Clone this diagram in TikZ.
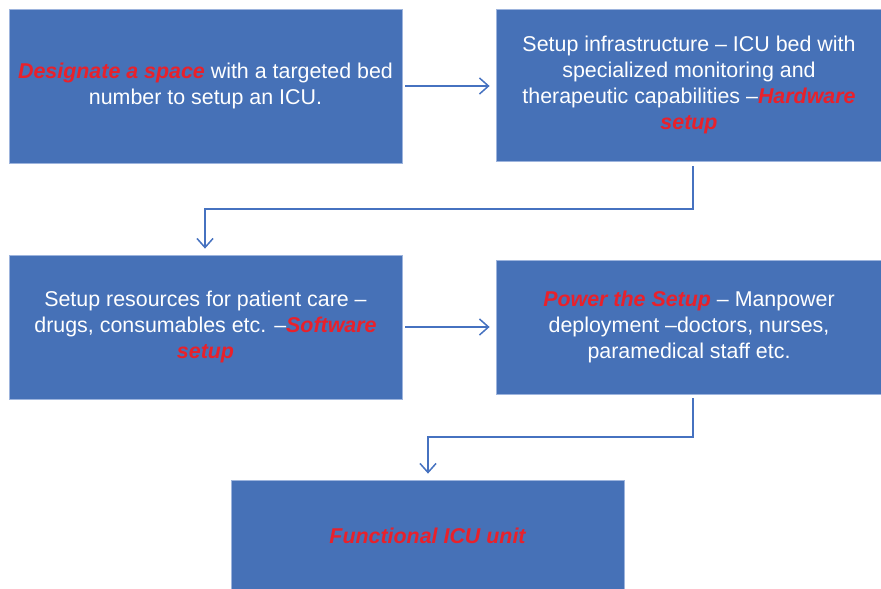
\documentclass[tikz,border=0pt]{standalone}
\usepackage{fontspec}
\setmainfont{Liberation Sans}
\usetikzlibrary{arrows.meta}
\definecolor{boxblue}{HTML}{4671B7}
\definecolor{edgeblue}{HTML}{9DB4DD}
\definecolor{hlred}{HTML}{E8212B}
\definecolor{arrowblue}{HTML}{4672C0}
\newcommand{\hl}[1]{{\color{hlred}\bfseries\itshape #1}}
\begin{document}
\begin{tikzpicture}[x=1pt,y=-1pt,
  stepbox/.style={draw=edgeblue, line width=0.8pt, fill=boxblue, text=white,
    align=center, inner sep=0pt,
    font=\fontsize{21.4}{26}\selectfont},
  flow/.style={draw=arrowblue, line width=1.5pt,
    -{Straight Barb[length=9pt,width=16pt,line width=1.5pt]}}]
\useasboundingbox (0,0) rectangle (881,589);
\node[stepbox, minimum width=393pt, minimum height=154pt] (b1) at (205.5,86)
  {\hl{Designate a space} with a targeted bed\\number to setup an ICU.};
\node[stepbox, minimum width=386pt, minimum height=152pt] (b2) at (689,85)
  {Setup infrastructure – ICU bed with\\specialized monitoring and\\therapeutic capabilities –\hl{Hardware}\\\hl{setup}};
\node[stepbox, minimum width=393pt, minimum height=144pt] (b3) at (205.5,327)
  {Setup resources for patient care –\\drugs, consumables etc. –\hl{Software}\\\hl{setup}};
\node[stepbox, minimum width=386pt, minimum height=134pt] (b4) at (689,327)
  {\hl{Power the Setup} – Manpower\\deployment –doctors, nurses,\\paramedical staff etc.};
\node[stepbox, minimum width=393pt, minimum height=112pt] (b5) at (427.5,536)
  {\hl{Functional ICU unit}};
\draw[flow, shorten <=3pt, shorten >=6pt] (b1.east |- 0,86) -- (b2.west |- 0,86);
\draw[flow, shorten <=3pt, shorten >=6pt] (b3.east |- 0,327) -- (b4.west |- 0,327);
\draw[flow, shorten <=3pt, shorten >=6pt] (693,163) |- (205,209) -- (b3.north -| 205,0);
\draw[flow, shorten <=3pt, shorten >=6pt] (693,395) |- (428,437) -- (b5.north -| 428,0);
\end{tikzpicture}
\end{document}
